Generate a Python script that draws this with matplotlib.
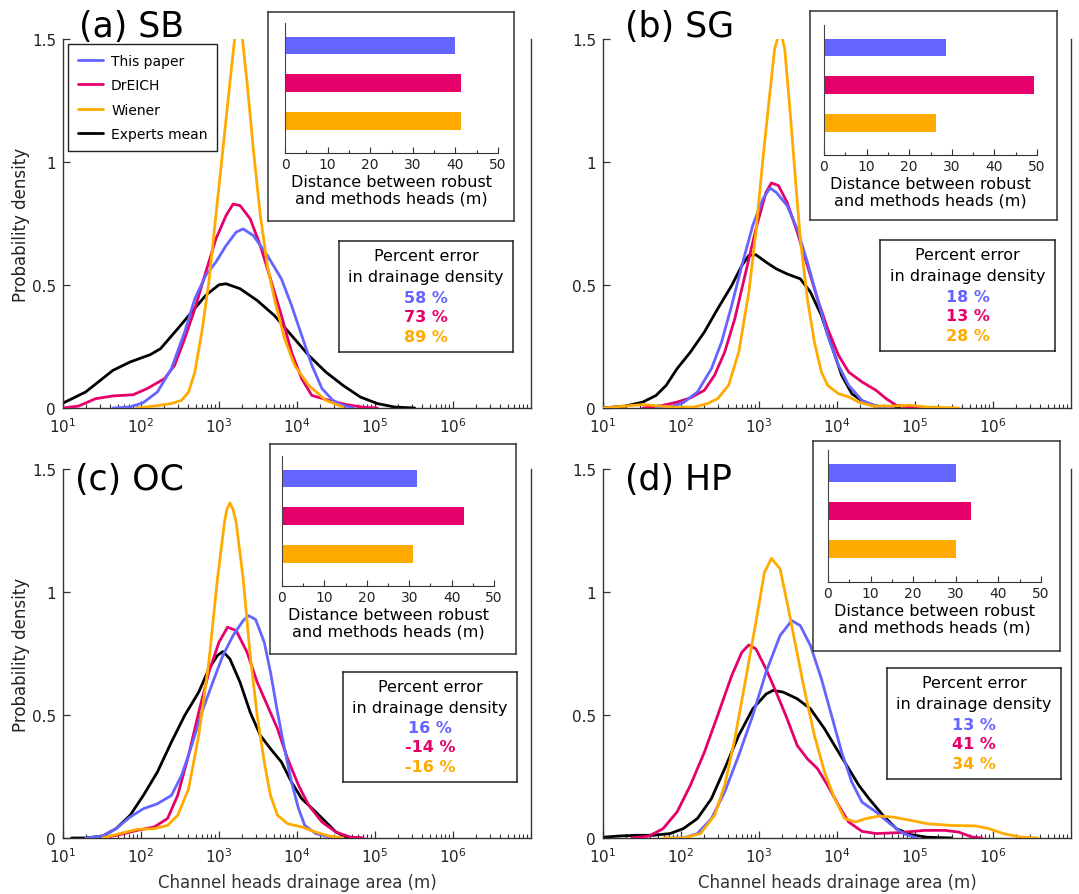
import numpy as np
import matplotlib
matplotlib.use("Agg")
import matplotlib.pyplot as plt
from matplotlib.ticker import FixedLocator, LogLocator, NullFormatter, MultipleLocator

W, H = 1079, 895

c_paper = "#6464ff"
c_dreich = "#e6006a"
c_wiener = "#ffaa00"
c_experts = "#000000"

methods = ["This paper", "DrEICH", "Wiener", "Experts mean"]
titles = ["(a) SB", "(b) SG", "(c) OC", "(d) HP"]

# density curves, points are (log10 drainage area, density)
sb_paper = [(1.64, 0), (1.86, 0.004), (2.03, 0.022), (2.21, 0.065), (2.39, 0.16), (2.56, 0.309),
            (2.69, 0.444), (2.83, 0.539), (2.96, 0.593), (3.09, 0.66), (3.22, 0.715), (3.31, 0.728),
            (3.44, 0.701), (3.62, 0.62), (3.8, 0.525), (3.93, 0.417), (4.06, 0.295), (4.19, 0.174),
            (4.32, 0.079), (4.46, 0.031), (4.59, 0.011), (4.72, 0)]
sb_dreich = [(1.0, 0), (1.2, 0.008), (1.42, 0.038), (1.64, 0.049), (1.9, 0.054), (2.08, 0.079),
             (2.3, 0.119), (2.43, 0.173), (2.56, 0.282), (2.69, 0.403), (2.83, 0.552), (2.96, 0.687),
             (3.09, 0.782), (3.18, 0.829), (3.27, 0.823), (3.4, 0.769), (3.53, 0.66), (3.66, 0.525),
             (3.8, 0.376), (3.93, 0.227), (4.06, 0.119), (4.19, 0.051), (4.41, 0.031), (4.63, 0.014),
             (4.85, 0.003), (5.03, 0)]
sb_wiener = [(1.95, 0), (2.17, 0.008), (2.39, 0.018), (2.52, 0.031), (2.61, 0.065), (2.69, 0.146),
             (2.78, 0.309), (2.87, 0.511), (2.96, 0.782), (3.05, 1.052), (3.14, 1.323), (3.2, 1.499),
             (3.25, 1.58), (3.3, 1.499), (3.36, 1.323), (3.44, 1.052), (3.53, 0.782), (3.62, 0.579),
             (3.71, 0.444), (3.84, 0.282), (3.97, 0.173), (4.15, 0.092), (4.37, 0.031), (4.59, 0.004)]
sb_experts = [(1.0, 0.02), (1.29, 0.065), (1.64, 0.153), (1.86, 0.187), (2.12, 0.217), (2.25, 0.241),
              (2.47, 0.322), (2.65, 0.39), (2.83, 0.458), (3.0, 0.501), (3.09, 0.505), (3.27, 0.485),
              (3.49, 0.437), (3.71, 0.376), (3.93, 0.295), (4.15, 0.214), (4.37, 0.146), (4.59, 0.092),
              (4.81, 0.045), (5.03, 0.018), (5.25, 0.004), (5.51, 0)]

sg_paper = [(1.68, 0), (1.86, 0.004), (2.03, 0.022), (2.21, 0.065), (2.39, 0.16), (2.52, 0.268),
            (2.65, 0.417), (2.78, 0.579), (2.92, 0.742), (3.05, 0.85), (3.14, 0.894), (3.22, 0.877),
            (3.36, 0.823), (3.49, 0.728), (3.62, 0.593), (3.75, 0.444), (3.88, 0.295), (4.02, 0.173),
            (4.15, 0.092), (4.32, 0.031), (4.5, 0.008), (4.72, 0)]
sg_dreich = [(1.51, 0), (1.73, 0.008), (1.95, 0.024), (2.12, 0.041), (2.3, 0.072), (2.43, 0.133),
             (2.56, 0.227), (2.69, 0.363), (2.83, 0.552), (2.96, 0.728), (3.09, 0.877), (3.16, 0.915),
             (3.25, 0.904), (3.36, 0.836), (3.49, 0.715), (3.62, 0.579), (3.75, 0.444), (3.88, 0.322),
             (4.02, 0.214), (4.15, 0.146), (4.32, 0.106), (4.5, 0.072), (4.63, 0.038), (4.76, 0.011),
             (4.94, 0.003), (5.25, 0)]
sg_wiener = [(1.0, 0), (1.29, 0.008), (1.51, 0.014), (1.73, 0.008), (1.95, 0.003), (2.17, 0.004),
             (2.34, 0.018), (2.47, 0.038), (2.61, 0.092), (2.74, 0.227), (2.87, 0.471), (2.96, 0.715),
             (3.05, 1.012), (3.14, 1.283), (3.2, 1.459), (3.27, 1.54), (3.33, 1.459), (3.4, 1.2),
             (3.47, 0.92), (3.53, 0.685), (3.62, 0.444), (3.71, 0.268), (3.8, 0.146), (3.88, 0.092),
             (4.02, 0.058), (4.15, 0.045), (4.28, 0.024), (4.46, 0.008), (4.72, 0.008), (4.94, 0.011),
             (5.16, 0.004), (5.56, 0)]
sg_experts = [(1.0, 0), (1.29, 0.008), (1.51, 0.024), (1.68, 0.051), (1.81, 0.092), (1.95, 0.16),
              (2.12, 0.227), (2.3, 0.309), (2.47, 0.403), (2.65, 0.498), (2.78, 0.579), (2.87, 0.62),
              (2.96, 0.623), (3.09, 0.593), (3.22, 0.566), (3.36, 0.545), (3.53, 0.525), (3.66, 0.471),
              (3.8, 0.376), (3.93, 0.254), (4.06, 0.133), (4.19, 0.058), (4.37, 0.018), (4.59, 0.003),
              (4.81, 0)]

oc_paper = [(1.29, 0), (1.51, 0.008), (1.68, 0.038), (1.86, 0.085), (2.03, 0.119), (2.21, 0.139),
            (2.39, 0.173), (2.52, 0.254), (2.65, 0.376), (2.78, 0.511), (2.92, 0.633), (3.05, 0.742),
            (3.18, 0.823), (3.31, 0.884), (3.38, 0.904), (3.47, 0.888), (3.58, 0.796), (3.66, 0.674),
            (3.75, 0.511), (3.84, 0.363), (3.93, 0.227), (4.02, 0.119), (4.1, 0.051), (4.24, 0.018),
            (4.41, 0.004), (4.59, 0)]
oc_dreich = [(1.51, 0), (1.73, 0.014), (1.95, 0.031), (2.17, 0.045), (2.34, 0.079), (2.47, 0.173),
             (2.61, 0.336), (2.74, 0.511), (2.87, 0.674), (3.0, 0.796), (3.11, 0.857), (3.22, 0.843),
             (3.36, 0.755), (3.49, 0.633), (3.62, 0.539), (3.75, 0.444), (3.88, 0.322), (4.02, 0.214),
             (4.15, 0.133), (4.32, 0.065), (4.5, 0.024), (4.68, 0.004), (4.85, 0)]
oc_wiener = [(1.51, 0), (1.73, 0.018), (1.95, 0.035), (2.17, 0.038), (2.34, 0.051), (2.47, 0.092),
             (2.61, 0.2), (2.74, 0.417), (2.87, 0.715), (2.98, 1.053), (3.07, 1.283), (3.1, 1.335),
             (3.14, 1.362), (3.18, 1.335), (3.22, 1.283), (3.31, 1.053), (3.4, 0.742), (3.49, 0.498),
             (3.58, 0.309), (3.66, 0.173), (3.75, 0.092), (3.88, 0.058), (4.06, 0.045), (4.24, 0.024),
             (4.41, 0.008), (4.59, 0)]
oc_experts = [(1.11, 0), (1.29, 0), (1.51, 0.008), (1.68, 0.038), (1.86, 0.092), (2.03, 0.173),
              (2.21, 0.268), (2.39, 0.39), (2.56, 0.498), (2.74, 0.593), (2.87, 0.687), (2.98, 0.742),
              (3.05, 0.758), (3.14, 0.728), (3.27, 0.633), (3.4, 0.511), (3.53, 0.417), (3.66, 0.363),
              (3.8, 0.309), (3.93, 0.227), (4.06, 0.16), (4.24, 0.106), (4.37, 0.065), (4.5, 0.024),
              (4.63, 0.004), (4.81, 0)]

hp_paper = [(1.81, 0), (2.03, 0), (2.21, 0.018), (2.39, 0.079), (2.56, 0.187), (2.74, 0.336),
            (2.92, 0.498), (3.09, 0.674), (3.27, 0.823), (3.42, 0.884), (3.53, 0.863), (3.66, 0.782),
            (3.8, 0.647), (3.93, 0.498), (4.06, 0.349), (4.19, 0.227), (4.32, 0.146), (4.5, 0.106),
            (4.68, 0.058), (4.85, 0.018), (5.03, 0)]
hp_dreich = [(1.37, 0), (1.59, 0.008), (1.77, 0.038), (1.95, 0.106), (2.12, 0.214), (2.3, 0.349),
             (2.47, 0.498), (2.65, 0.66), (2.78, 0.755), (2.87, 0.785), (2.96, 0.769), (3.09, 0.687),
             (3.22, 0.593), (3.36, 0.485), (3.49, 0.376), (3.62, 0.322), (3.75, 0.282), (3.88, 0.214),
             (4.02, 0.133), (4.15, 0.065), (4.32, 0.027), (4.5, 0.018), (4.81, 0.022), (5.12, 0.031),
             (5.38, 0.031), (5.56, 0.024), (5.73, 0.004), (5.86, 0)]
hp_wiener = [(1.77, 0), (2.03, 0), (2.25, 0.018), (2.43, 0.092), (2.56, 0.214), (2.69, 0.403),
             (2.83, 0.647), (2.96, 0.877), (3.07, 1.08), (3.16, 1.137), (3.27, 1.094), (3.36, 0.958),
             (3.47, 0.782), (3.58, 0.606), (3.71, 0.417), (3.84, 0.268), (3.97, 0.16), (4.1, 0.079),
             (4.24, 0.065), (4.37, 0.079), (4.54, 0.089), (4.72, 0.085), (4.94, 0.072), (5.16, 0.058),
             (5.47, 0.051), (5.78, 0.049), (5.95, 0.038), (6.13, 0.018), (6.35, 0.004), (6.57, 0)]
hp_experts = [(1.0, 0.003), (1.2, 0.008), (1.42, 0.011), (1.64, 0.011), (1.86, 0.018), (2.03, 0.038),
              (2.21, 0.079), (2.39, 0.16), (2.56, 0.282), (2.74, 0.417), (2.92, 0.525), (3.09, 0.585),
              (3.18, 0.6), (3.31, 0.593), (3.49, 0.566), (3.66, 0.525), (3.84, 0.444), (4.02, 0.349),
              (4.15, 0.282), (4.28, 0.214), (4.41, 0.16), (4.59, 0.092), (4.76, 0.038), (4.94, 0.014),
              (5.16, 0.003), (5.47, 0)]

# distance between robust and method heads (m): This paper, DrEICH, Wiener
dist_sb = [39.8, 41.2, 41.2]
dist_sg = [28.6, 49.4, 26.2]
dist_oc = [31.9, 43.0, 30.8]
dist_hp = [30.1, 33.6, 30.1]

# percent error in drainage density: This paper, DrEICH, Wiener
err_sb = [58, 73, 89]
err_sg = [18, 13, 28]
err_oc = [16, -14, -16]
err_hp = [13, 41, 34]


def px_box(x0, y0, x1, y1):
    # pixel box (top-left origin) -> figure rect
    return [x0 / W, 1 - y1 / H, (x1 - x0) / W, (y1 - y0) / H]


def draw_main(fig, rect, curves, title, title_xy, xlabel, ylabel, legend=False):
    ax = fig.add_axes(px_box(*rect))
    colors = [c_paper, c_dreich, c_wiener, c_experts]
    zorders = [4, 3, 5, 2]
    handles = []
    for pts, col, lab, z in zip(curves, colors, methods, zorders):
        lx, y = zip(*pts)
        h, = ax.plot(10 ** np.array(lx), y, color=col, lw=2.0, label=lab, zorder=z,
                     solid_capstyle="round", solid_joinstyle="round")
        handles.append(h)

    ax.set_xscale("log")
    ax.set_xlim(10, 1e7)
    ax.set_ylim(0, 1.5)
    ax.set_yticks([0, 0.5, 1, 1.5])
    ax.set_yticklabels(["0", "0.5", "1", "1.5"])
    ax.xaxis.set_major_locator(FixedLocator([1e1, 1e2, 1e3, 1e4, 1e5, 1e6]))
    ax.xaxis.set_minor_locator(LogLocator(base=10, subs=np.arange(2, 10), numticks=30))
    ax.xaxis.set_minor_formatter(NullFormatter())
    ax.tick_params(which="major", direction="in", length=5, width=0.9, color="#333",
                   labelsize=11, labelcolor="#222")
    ax.tick_params(axis="x", which="major", pad=6)
    ax.tick_params(axis="y", which="major", pad=5)
    ax.tick_params(which="minor", direction="in", length=3, width=0.8, color="#333")
    ax.spines["top"].set_visible(False)
    for s in ["left", "bottom", "right"]:
        ax.spines[s].set_color("#333")
        ax.spines[s].set_linewidth(1.0)

    if ylabel:
        ax.set_ylabel("Probability density", fontsize=12, color="#222")
        ax.yaxis.set_label_coords(-0.07, 0.5)
    if xlabel:
        ax.set_xlabel("Channel heads drainage area (m)", fontsize=12, color="#333")
        ax.xaxis.set_label_coords(0.5, -0.095)

    if legend:
        leg = ax.legend(handles=handles, loc="upper left", bbox_to_anchor=(68 / W, 1 - 45 / H),
                        bbox_transform=fig.transFigure, borderaxespad=0, fontsize=10,
                        fancybox=False, edgecolor="#222", framealpha=1, labelspacing=0.75,
                        handlelength=1.8, handletextpad=0.6, borderpad=0.7)
        leg.get_frame().set_linewidth(1.0)
        leg.set_zorder(10)

    fig.text(title_xy[0] / W, 1 - title_xy[1] / H, title, fontsize=25, ha="left",
             va="baseline", color="black")
    return ax


def draw_inset(fig, outer, inner, dists):
    box = fig.add_axes(px_box(*outer))
    box.set_xticks([])
    box.set_yticks([])
    for s in box.spines.values():
        s.set_color("#333")
        s.set_linewidth(1.1)

    ins = fig.add_axes(px_box(*inner))
    ins.patch.set_alpha(0)
    ins.barh([3, 2, 1], dists, height=0.47, color=[c_paper, c_dreich, c_wiener])
    ins.set_xlim(0, 50)
    ins.set_ylim(0.15, 3.6)
    ins.set_yticks([])
    ins.xaxis.set_major_locator(MultipleLocator(10))
    ins.xaxis.set_minor_locator(MultipleLocator(5))
    ins.tick_params(which="major", direction="in", length=4, width=0.8, color="#333",
                    labelsize=10, labelcolor="#222", pad=3)
    ins.tick_params(which="minor", direction="in", length=2.5, width=0.8, color="#333")
    ins.spines["top"].set_visible(False)
    ins.spines["right"].set_visible(False)
    ins.spines["left"].set_color("#444")
    ins.spines["bottom"].set_color("#333")
    ins.set_xlabel("Distance between robust\nand methods heads (m)", fontsize=11.5,
                   color="black", labelpad=2, linespacing=1.15)


def draw_errbox(fig, rect, errs):
    tb = fig.add_axes(px_box(*rect))
    tb.set_xticks([])
    tb.set_yticks([])
    tb.set_xlim(0, 1)
    tb.set_ylim(0, 1)
    for s in tb.spines.values():
        s.set_color("#222")
        s.set_linewidth(1.1)
    tb.text(0.5, 0.865, "Percent error", ha="center", va="center", fontsize=11.5)
    tb.text(0.5, 0.676, "in drainage density", ha="center", va="center", fontsize=11.5)
    for v, yy, col in zip(errs, [0.495, 0.324, 0.144], [c_paper, c_dreich, c_wiener]):
        tb.text(0.5, yy, f"{v} %", ha="center", va="center", fontsize=11.5,
                fontweight="bold", color=col)


fig = plt.figure(figsize=(W / 100, H / 100), dpi=100)

draw_main(fig, (63, 40, 531, 409), [sb_paper, sb_dreich, sb_wiener, sb_experts],
          titles[0], (79, 37), False, True, legend=True)
draw_main(fig, (603, 40, 1071, 409), [sg_paper, sg_dreich, sg_wiener, sg_experts],
          titles[1], (625, 37), False, False)
draw_main(fig, (63, 470, 531, 839), [oc_paper, oc_dreich, oc_wiener, oc_experts],
          titles[2], (75, 490), True, True)
draw_main(fig, (603, 470, 1071, 839), [hp_paper, hp_dreich, hp_wiener, hp_experts],
          titles[3], (625, 490), True, False)

draw_inset(fig, (268, 13, 514, 222), (285, 24, 498, 154), dist_sb)
draw_inset(fig, (810, 12, 1057, 221), (824, 26, 1037, 156), dist_sg)
draw_inset(fig, (270, 445, 516, 655), (282, 457, 494, 587), dist_oc)
draw_inset(fig, (813, 442, 1060, 652), (828, 451, 1041, 583), dist_hp)

draw_errbox(fig, (339, 242, 513, 353), err_sb)
draw_errbox(fig, (880, 241, 1055, 352), err_sg)
draw_errbox(fig, (343, 673, 517, 783), err_oc)
draw_errbox(fig, (887, 669, 1061, 780), err_hp)

fig.savefig("out.png", dpi=100)
